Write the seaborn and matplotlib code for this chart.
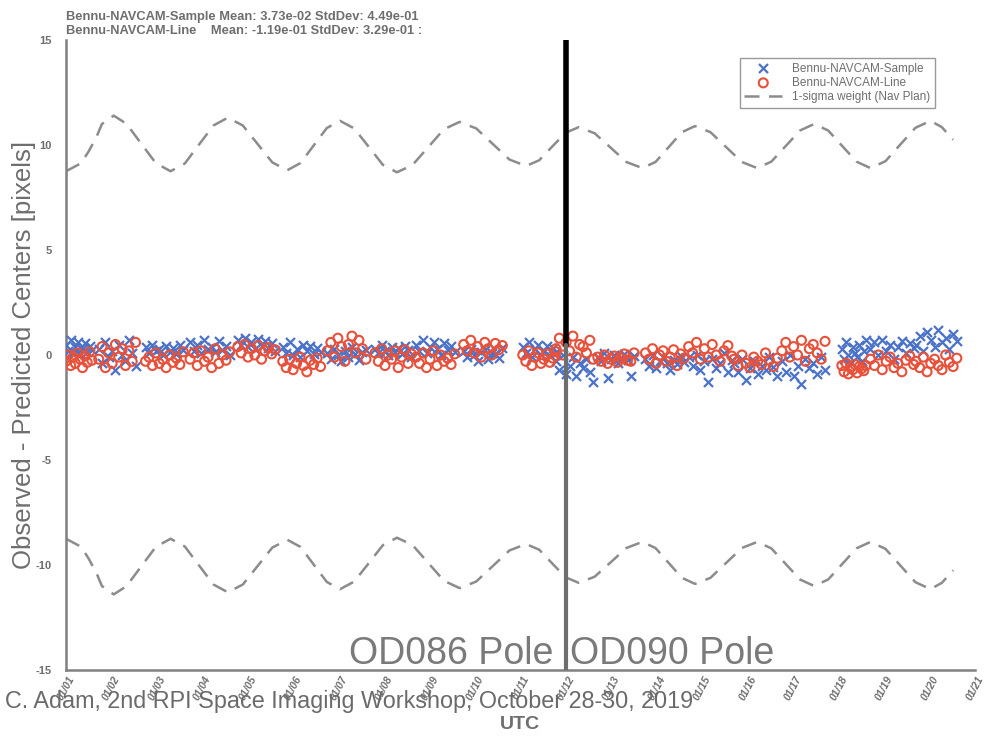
import numpy as np
import pandas as pd
import matplotlib
matplotlib.use("Agg")
import matplotlib.pyplot as plt
import seaborn as sns

# ---------------- data ----------------
tick_days = list(range(1, 22))
tick_labels = ["01/%02d" % d for d in tick_days]

# 1-sigma weight (Nav Plan) curve
sigma_days = [1.00, 1.33, 1.50, 1.68, 1.79, 2.05, 2.33, 2.65, 2.975,
              3.30, 3.615, 3.93, 4.245, 4.56, 4.89, 5.215, 5.54,
              5.87, 6.16, 6.45, 6.74, 7.03, 7.34, 7.655, 7.97,
              8.28, 8.625, 8.97, 9.315, 9.66, 10.025, 10.39, 10.755,
              11.12, 11.41, 11.70, 11.99, 12.28, 12.63, 12.98, 13.33,
              13.68, 13.97, 14.26, 14.55, 14.84, 15.18, 15.525, 15.87,
              16.21, 16.52, 16.835, 17.15, 17.46, 17.77, 18.08, 18.39,
              18.70, 19.03, 19.36, 19.69, 20.02, 20.27, 20.52]
sigma_vals = [8.75, 9.13, 9.70, 10.43, 11.00, 11.40, 11.01, 10.08, 9.14,
              8.75, 9.12, 10.03, 10.93, 11.30, 10.93, 10.05, 9.17,
              8.80, 9.14, 9.98, 10.81, 11.15, 10.79, 9.93, 9.06,
              8.70, 9.05, 9.90, 10.75, 11.10, 10.79, 10.05, 9.31,
              9.00, 9.27, 9.93, 10.58, 10.85, 10.56, 9.88, 9.19,
              8.90, 9.19, 9.90, 10.61, 10.90, 10.61, 9.90, 9.19,
              8.90, 9.21, 9.95, 10.69, 11.00, 10.69, 9.95, 9.21,
              8.90, 9.23, 10.03, 10.82, 11.15, 10.85, 10.25]

# residual clusters: (start day, end day)
cluster_spans = [(1.00, 1.57), (1.72, 2.53), (2.75, 3.58), (3.73, 4.60),
                 (4.78, 5.60), (5.77, 6.60), (6.75, 7.60), (7.80, 8.60),
                 (8.70, 9.55), (9.75, 10.60), (11.05, 11.78), (11.78, 12.60),
                 (12.70, 13.50), (13.75, 14.60), (14.70, 15.65), (15.70, 16.65),
                 (16.75, 17.70), (18.07, 18.60), (18.70, 19.65), (19.70, 20.60)]

sample_vals = [
    [0.5, 0.2, 0.7, 0.1, 0.4, 0.6, 0.0, 0.3, 0.55, 0.15, 0.45, 0.25],
    [0.3, -0.4, 0.6, -0.1, 0.2, -0.7, 0.5, 0.0, -0.3, 0.7, 0.1, -0.5],
    [0.4, 0.1, 0.5, 0.2, 0.3, 0.0, 0.45, 0.15, 0.35, 0.05, 0.5, 0.25],
    [0.6, 0.2, 0.5, 0.1, 0.7, 0.3, 0.4, 0.15, 0.65, 0.25, 0.45, 0.0],
    [0.7, 0.5, 0.8, 0.4, 0.6, 0.3, 0.75, 0.45, 0.65, 0.35, 0.55, 0.2],
    [0.4, 0.1, 0.6, 0.0, 0.3, -0.1, 0.5, 0.2, 0.45, 0.05, 0.35, 0.15],
    [0.1, -0.2, 0.3, 0.0, -0.3, 0.2, -0.1, 0.4, 0.05, -0.25, 0.15, 0.25],
    [0.3, 0.1, 0.5, 0.2, 0.0, 0.4, 0.15, 0.35, 0.05, 0.45, 0.25, -0.1],
    [0.5, 0.2, 0.7, 0.1, 0.4, 0.6, 0.3, 0.0, 0.55, 0.25, 0.45, 0.15],
    [0.2, -0.1, 0.3, 0.0, -0.3, 0.15, 0.25, -0.2, 0.1, 0.05, -0.15, 0.35],
    [0.4, 0.1, 0.6, -0.1, 0.3, 0.5, 0.0, 0.2, 0.45, -0.05, 0.35, 0.15],
    [-0.3, -0.7, 0.0, -0.9, -0.5, -0.1, -1.0, -0.4, -0.6, -0.2, -0.8, -1.3],
    [-0.1, -0.3, 0.1, -1.1, -0.2, 0.0, -0.4, -0.15, 0.05, -0.25, -1.0, -0.05],
    [-0.2, -0.5, 0.0, -0.6, -0.3, -0.1, -0.4, -0.7, -0.25, -0.45, -0.05, -0.35],
    [-0.1, -0.5, 0.0, -0.7, -0.3, -1.3, -0.2, -0.6, -0.4, 0.1, -0.8, -0.25],
    [-0.4, -0.8, -0.2, -1.2, -0.6, -0.3, -0.9, -0.5, -0.7, -0.1, -0.55, -1.0],
    [-0.3, -0.8, 0.0, -1.0, -0.5, -1.4, -0.2, -0.6, -0.4, -0.9, -0.1, -0.7],
    [0.3, -0.2, 0.6, 0.0, -0.4, 0.4, 0.1, -0.1, 0.5, -0.3, 0.2, 0.7],
    [0.3, 0.6, 0.0, 0.7, 0.2, 0.5, -0.2, 0.4, 0.65, 0.1, 0.55, 0.35],
    [0.5, 0.9, 0.2, 1.1, 0.7, 0.4, 1.2, 0.6, 0.8, 0.3, 1.0, 0.65],
]

line_vals = [
    [-0.3, 0.0, -0.5, -0.1, -0.4, 0.1, -0.2, -0.6, -0.05, -0.35, 0.15, -0.25],
    [-0.2, 0.4, -0.6, 0.1, -0.4, 0.5, -0.1, 0.3, -0.5, 0.2, -0.3, 0.6],
    [-0.3, -0.1, -0.5, 0.1, -0.4, -0.2, -0.6, 0.0, -0.35, -0.15, -0.45, 0.15],
    [-0.2, 0.1, -0.5, 0.2, -0.3, -0.1, -0.6, 0.3, -0.4, 0.0, -0.25, 0.15],
    [0.4, 0.1, 0.5, -0.1, 0.3, 0.0, 0.45, -0.2, 0.2, 0.35, 0.05, 0.25],
    [-0.3, -0.6, -0.2, -0.7, -0.4, -0.1, -0.5, -0.8, -0.25, -0.45, -0.15, -0.55],
    [0.2, 0.6, -0.1, 0.8, 0.4, -0.3, 0.5, 0.9, 0.1, 0.7, 0.3, -0.2],
    [0.1, -0.3, 0.3, -0.5, 0.0, -0.2, 0.2, -0.6, -0.1, 0.25, -0.4, 0.05],
    [-0.1, -0.4, 0.1, -0.6, -0.2, 0.2, -0.5, 0.0, -0.3, -0.15, -0.45, 0.05],
    [0.5, 0.2, 0.7, 0.1, 0.4, -0.1, 0.6, 0.3, 0.0, 0.55, 0.25, 0.45],
    [0.0, -0.3, 0.2, -0.5, -0.1, 0.1, -0.4, -0.2, 0.05, -0.35, -0.15, 0.15],
    [0.3, 0.8, 0.0, 0.6, 0.2, 0.9, -0.1, 0.5, 0.4, 0.1, 0.7, -0.2],
    [-0.1, -0.3, 0.0, -0.4, -0.2, -0.05, -0.35, -0.15, 0.05, -0.25, -0.3, 0.1],
    [0.1, -0.2, 0.3, -0.4, 0.0, 0.2, -0.3, -0.1, 0.25, -0.5, 0.05, -0.15],
    [0.4, 0.1, 0.6, -0.2, 0.3, -0.1, 0.5, 0.0, -0.3, 0.2, 0.45, -0.05],
    [-0.2, -0.5, 0.0, -0.4, -0.6, -0.1, -0.3, -0.45, 0.1, -0.25, -0.55, -0.15],
    [0.2, 0.6, -0.1, 0.4, 0.0, 0.7, -0.3, 0.3, 0.5, 0.1, -0.2, 0.65],
    [-0.5, -0.8, -0.4, -0.9, -0.6, -0.7, -0.45, -0.85, -0.55, -0.65, -0.75, -0.5],
    [-0.2, -0.5, 0.0, -0.7, -0.3, -0.1, -0.6, -0.4, -0.8, -0.25, -0.05, -0.45],
    [-0.3, -0.6, -0.1, -0.8, -0.4, -0.2, -0.5, -0.7, 0.0, -0.35, -0.55, -0.15],
]

title_lines = ["Bennu-NAVCAM-Sample Mean: 3.73e-02 StdDev: 4.49e-01",
               "Bennu-NAVCAM-Line    Mean: -1.19e-01 StdDev: 3.29e-01 :"]

# ---------------- frames ----------------
def build(vals_list):
    rows = []
    for (t0, t1), vals in zip(cluster_spans, vals_list):
        ts = np.linspace(t0, t1, len(vals))
        rows += list(zip(ts, vals))
    return pd.DataFrame(rows, columns=["day", "resid"])

df_s = build(sample_vals)
df_l = build(line_vals)
df_sig = pd.DataFrame({"day": sigma_days, "sigma": sigma_vals})
df_sig["neg"] = -df_sig["sigma"]

# ---------------- style ----------------
sns.set_theme(style="white")
plt.rcParams["font.family"] = ["Liberation Sans", "DejaVu Sans"]

GRAY_TXT = "#6e6e6e"
GRAY_AX = "#808080"
BLUE = "#4a72c8"
RED = "#e8503a"
DASH = "#8c8c8c"

fig = plt.figure(figsize=(9.89, 7.45), dpi=100)
ax = fig.add_axes([66 / 989, 75 / 745, (975 - 66) / 989, 630 / 745])

sns.scatterplot(data=df_s, x="day", y="resid", marker="x", color=BLUE,
                s=42, linewidth=1.6, ax=ax, label="Bennu-NAVCAM-Sample", zorder=3)
sns.scatterplot(data=df_l, x="day", y="resid", marker="o", facecolor="none",
                edgecolor=RED, s=42, linewidth=1.5, ax=ax,
                label="Bennu-NAVCAM-Line", zorder=4)
sns.lineplot(data=df_sig, x="day", y="sigma", ax=ax, color=DASH, lw=1.8,
             linestyle=(0, (6, 3.8)), sort=False, label="1-sigma weight (Nav Plan)")
sns.lineplot(data=df_sig, x="day", y="neg", ax=ax, color=DASH, lw=1.8,
             linestyle=(0, (6, 3.8)), sort=False)

ax.plot([12, 12], [0.5, 15], color="black", lw=4, zorder=5)
ax.plot([12, 12], [-15, 0.5], color="#6e6e6e", lw=3, zorder=5)

ax.set_xlim(1, 21)
ax.set_ylim(-15, 15)
ax.set_xticks(tick_days)
ax.set_xticklabels(tick_labels, rotation=62, ha="center", va="top",
                   fontsize=7.5, fontweight="bold",
                   color=GRAY_TXT, style="italic")
ax.set_yticks([-15, -10, -5, 0, 5, 10, 15])
ax.set_yticklabels(["-15", "-10", "-5", "0", "5", "10", "15"], fontsize=8,
                   fontweight="bold", color=GRAY_TXT)
ax.tick_params(axis="x", direction="in", length=9, width=1.2, color=GRAY_AX, pad=3)
ax.tick_params(axis="y", direction="in", length=7, width=1.2, color=GRAY_AX, pad=10)
ax.set_xlabel("")
ax.set_ylabel("Observed - Predicted Centers [pixels]", fontsize=18.5, color=GRAY_TXT,
              labelpad=0)
for side in ["top", "right"]:
    ax.spines[side].set_visible(False)
for side in ["left", "bottom"]:
    ax.spines[side].set_color(GRAY_AX)
    ax.spines[side].set_linewidth(1.8)

ax.text(11.73, -14.7, "OD086 Pole", ha="right", va="baseline", fontsize=27,
        color="#7a7a7a")
ax.text(12.1, -14.7, "OD090 Pole", ha="left", va="baseline", fontsize=27,
        color="#7a7a7a")

fig.text(66 / 989, 1 - 20 / 745, title_lines[0], fontsize=9.3, fontweight="bold",
         color=GRAY_TXT, va="baseline")
fig.text(66 / 989, 1 - 34 / 745, title_lines[1], fontsize=9.3, fontweight="bold",
         color=GRAY_TXT, va="baseline")

fig.text(520 / 989, 1 - 729 / 745, "UTC", fontsize=14, fontweight="bold",
         color=GRAY_TXT, ha="center", va="baseline")
fig.text(5 / 989, 1 - 708 / 745,
         "C. Adam, 2nd RPI Space Imaging Workshop, October 28-30, 2019",
         fontsize=16.8, color="#6a6a6a", ha="left", va="baseline")

leg = ax.legend(loc="upper right", bbox_to_anchor=(0.962, 0.981), fontsize=8.5,
                frameon=True, fancybox=False, edgecolor=GRAY_AX, handlelength=3.2,
                borderpad=0.4, labelspacing=0.2)
for t in leg.get_texts():
    t.set_color(GRAY_TXT)

fig.savefig("out.png", dpi=100)
